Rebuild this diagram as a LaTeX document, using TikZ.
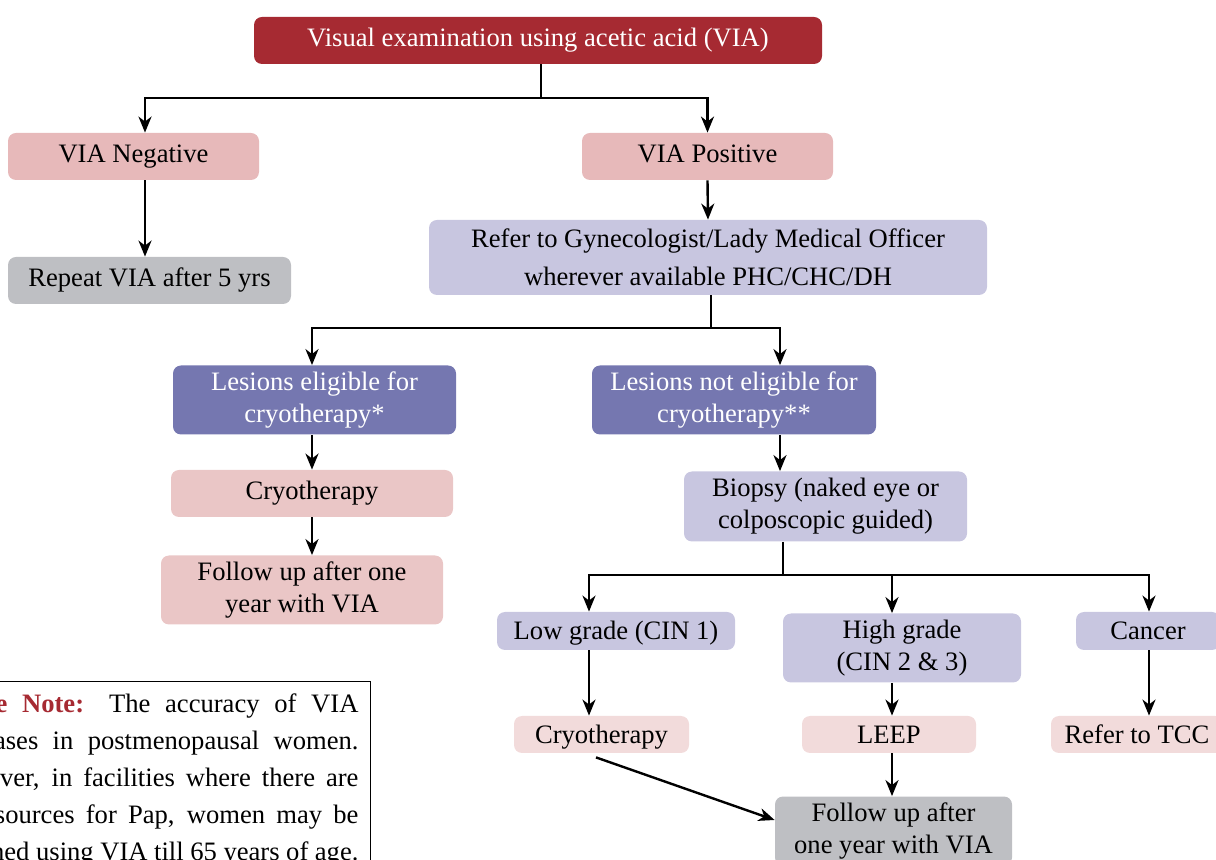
\documentclass[tikz,border=0pt]{standalone}
\usepackage{fontspec}
\setmainfont{Liberation Serif}
\usepackage{xcolor}
\usetikzlibrary{arrows.meta,calc,positioning}
\definecolor{viared}{RGB}{166,42,50}
\definecolor{viapink}{RGB}{231,185,186}
\definecolor{treatpink}{RGB}{234,198,198}
\definecolor{lightpink}{RGB}{242,219,219}
\definecolor{lavender}{RGB}{200,198,224}
\definecolor{deeppurple}{RGB}{117,119,176}
\definecolor{boxgray}{RGB}{190,191,195}
\tikzset{
	box/.style={rounded corners=4pt, align=center, inner sep=2pt,
			font=\fontsize{13.3pt}{16pt}\selectfont},
	oneline/.style={text height=9pt, text depth=3pt},
	lowline/.style={text height=10.5pt, text depth=2pt},
	redbox/.style={box, fill=viared, text=white},
	pinkbox/.style={box, fill=viapink},
	treatbox/.style={box, fill=treatpink},
	lightbox/.style={box, fill=lightpink},
	lavbox/.style={box, fill=lavender},
	purplebox/.style={box, fill=deeppurple, text=white},
	graybox/.style={box, fill=boxgray},
	arr/.style={line width=1.2pt, -{Stealth[length=8pt, width=6.5pt, inset=2.5pt]}},
	link/.style={line width=1.2pt}
}

\begin{document}
\begin{tikzpicture}[x=0.5pt, y=-0.5pt]
	\path[use as bounding box] (0,0) rectangle (1216,860);
	\clip (0,0) rectangle (1216,860);

	% screening
	\node[redbox, oneline, minimum width=284pt, minimum height=23.5pt] (via) at (538,40.5) {Visual examination using acetic acid (VIA)};
	\node[pinkbox, oneline, minimum width=125.5pt, minimum height=23.5pt] (neg) at (133.5,156.5) {VIA Negative};
	\node[pinkbox, oneline, minimum width=125.5pt, minimum height=23.5pt] (pos) at (707.5,156.5) {VIA Positive};
	\node[graybox, oneline, minimum width=141.5pt, minimum height=23.5pt] (repeat) at (149.5,280.5) {Repeat VIA after 5 yrs};
	\node[lavbox, minimum width=279pt, minimum height=37.5pt, font=\fontsize{13.3pt}{19pt}\selectfont] (refer) at (708,257.5) {Refer to Gynecologist/Lady Medical Officer\\wherever available PHC/CHC/DH};

	% lesions
	\node[purplebox, minimum width=141.5pt, minimum height=34.5pt] (elig) at (314.5,400) {Lesions eligible for\\cryotherapy*};
	\node[purplebox, minimum width=142pt, minimum height=34.5pt] (noelig) at (734,400) {Lesions not eligible for\\cryotherapy**};
	\node[treatbox, oneline, minimum width=141pt, minimum height=23.5pt] (cryoA) at (312,493.5) {Cryotherapy};
	\node[treatbox, minimum width=141pt, minimum height=34.5pt] (followA) at (302,590) {Follow up after one\\year with VIA};
	\node[lavbox, minimum width=141.5pt, minimum height=35pt] (biopsy) at (825.5,506.5) {Biopsy (naked eye or\\colposcopic guided)};

	% biopsy results
	\node[lavbox, lowline, minimum width=119pt, minimum height=19pt] (low) at (616,631) {Low grade (CIN 1)};
	\node[lavbox, minimum width=119pt, minimum height=34.5pt] (high) at (902,648) {High grade\\(CIN 2 \& 3)};
	\node[lavbox, lowline, minimum width=72pt, minimum height=19pt] (cancer) at (1148,631) {Cancer};
	\node[lightbox, lowline, minimum width=87.5pt, minimum height=18.5pt] (cryoB) at (601.5,734.5) {Cryotherapy};
	\node[lightbox, lowline, minimum width=87pt, minimum height=18.5pt] (leep) at (889,734.5) {LEEP};
	\node[lightbox, lowline, minimum width=86pt, minimum height=18.5pt] (tcc) at (1137,734.5) {Refer to TCC};
	\node[graybox, minimum width=118.5pt, minimum height=34.5pt] (followB) at (893.5,831) {Follow up after\\one year with VIA};

	% note
	\node[draw=black, line width=0.5pt, anchor=north east, text width=211pt, align=justify, inner sep=6pt,
		font=\fontsize{13.3pt}{18.5pt}\selectfont] (note) at (371,681)
		{{\color{viared}\textbf{Please Note:}} The accuracy of VIA\linebreak decreases in postmenopausal women.\linebreak However, in facilities where there are\linebreak no resources for Pap, women may be\linebreak screened using VIA till 65 years of age.};

	% junctions and columns
	\coordinate (jvia) at (541,98);
	\coordinate (jrefer) at (711,328);
	\coordinate (jbiopsy) at (783,575);
	\coordinate (cneg) at (145,0);
	\coordinate (celig) at (312,0);
	\coordinate (cnoelig) at (780,0);
	\coordinate (clow) at (589,0);
	\coordinate (chigh) at (892,0);
	\coordinate (ccancer) at (1149,0);

	\draw[link] (via.south -| jvia) -- (jvia);
	\draw[arr] (jvia) -| (neg.north -| cneg);
	\draw[arr] (jvia) -| (pos.north);
	\draw[arr] (neg.south -| cneg) -- (repeat.north -| cneg);
	\draw[arr] (pos.south) -- (refer.north);

	\draw[link] (refer.south -| jrefer) -- (jrefer);
	\draw[arr] (jrefer) -| (elig.north -| celig);
	\draw[arr] (jrefer) -| (noelig.north -| cnoelig);
	\draw[arr] (elig.south -| celig) -- (cryoA.north -| celig);
	\draw[arr] (cryoA.south -| celig) -- (followA.north -| celig);
	\draw[arr] (noelig.south -| cnoelig) -- (biopsy.north -| cnoelig);

	\draw[link] (biopsy.south -| jbiopsy) -- (jbiopsy);
	\draw[arr] (jbiopsy) -| (low.north -| clow);
	\draw[arr] (jbiopsy) -| (high.north -| chigh);
	\draw[arr] (jbiopsy) -| (cancer.north -| ccancer);
	\draw[arr] (low.south -| clow) -- (cryoB.north -| clow);
	\draw[arr] (high.south -| chigh) -- (leep.north -| chigh);
	\draw[arr] (cancer.south -| ccancer) -- (tcc.north -| ccancer);
	\draw[arr] (leep.south -| chigh) -- (followB.north -| chigh);
	\draw[arr] ([xshift=-2.75pt, yshift=-2pt]cryoB.south) -- ([yshift=5.5pt]followB.west);
\end{tikzpicture}
\end{document}
